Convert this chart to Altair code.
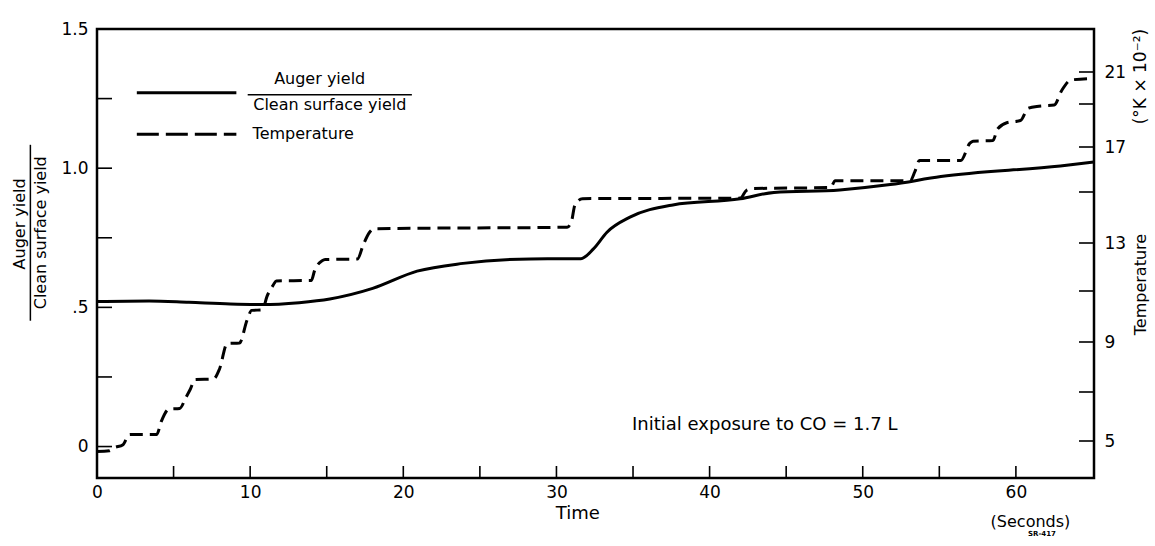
import altair as alt
import pandas as pd

FONT = "DejaVu Sans"

# ---- data ----
# Solid curve: Auger yield / clean surface yield (left axis)
auger_time = [0.0, 3.4, 6.0, 8.7, 10.8, 13.2, 15.2, 18.0, 20.9, 23.9, 28.3, 31.6,
              32.4, 33.3, 34.8, 37.6, 42.0, 44.2, 48.5, 51.8, 55.1, 62.9, 65.1]
auger_ratio = [0.521, 0.523, 0.518, 0.512, 0.510, 0.517, 0.530, 0.568, 0.630, 0.658,
               0.674, 0.675, 0.709, 0.770, 0.824, 0.868, 0.890, 0.913, 0.922, 0.941,
               0.970, 1.008, 1.022]

# Dashed curve: temperature in (K x 10^-2) (right axis)
temp_time = [0.0, 0.8, 1.1, 1.7, 2.1, 2.4, 3.9, 4.2, 4.7, 5.4, 5.8, 6.1, 6.4, 7.6, 8.0,
             8.5, 9.3, 9.8, 10.1, 10.8, 11.1, 11.5, 11.7, 14.0, 14.2, 14.7, 14.9, 17.0,
             17.4, 17.8, 18.1, 30.7, 31.0, 31.2, 31.7, 42.0, 42.4, 42.8, 47.9, 48.2,
             48.5, 53.1, 53.4, 53.7, 56.4, 57.0, 57.2, 58.5, 58.8, 59.4, 60.3, 60.8,
             61.5, 62.5, 63.0, 63.6, 65.1]
temp_value = [4.57, 4.60, 4.72, 4.85, 5.26, 5.27, 5.27, 5.80, 6.30, 6.33, 6.77, 7.12,
              7.50, 7.52, 7.92, 8.94, 8.96, 9.86, 10.24, 10.26, 10.79, 11.24, 11.42,
              11.44, 11.84, 12.26, 12.31, 12.33, 12.95, 13.42, 13.56, 13.62, 13.89,
              14.48, 14.74, 14.76, 15.07, 15.15, 15.20, 15.50, 15.50, 15.50, 15.90,
              16.40, 16.40, 17.18, 17.27, 17.30, 17.84, 18.13, 18.23, 18.80, 18.90,
              18.95, 19.86, 20.50, 20.60]

x_tick_values = [5, 10, 15, 20, 25, 30, 35, 40, 45, 50, 55, 60]
x_label_values = [0, 10, 20, 30, 40, 50, 60]
left_tick_values = [0, 0.25, 0.5, 0.75, 1.0, 1.25]
left_label_values = [0, 0.5, 1.0, 1.5]
right_tick_values = [5, 7, 9, 11, 13, 15, 17, 19, 21]
right_label_values = [5, 9, 13, 17, 21]

# ---- layout ----
W, H = 997, 449

x_scale = alt.Scale(domain=[0, 65.1], nice=False, zero=False)
yl_scale = alt.Scale(domain=[-0.113, 1.5], nice=False, zero=False)
# non-linear temperature axis of the original (piecewise linear)
yr_scale = alt.Scale(domain=[3.49, 5, 7, 9, 11, 13, 15, 17, 19, 21, 23.69],
                     range=[449, 412, 363, 313, 262, 214, 163, 118, 75, 43, 0],
                     nice=False, zero=False)

x_axis = alt.Axis(values=x_label_values, format="d", ticks=False, domain=False,
                  grid=False, title=None, labelFontSize=17, labelFont=FONT,
                  labelColor="black", labelPadding=6, labelFlush=False)
yl_axis = alt.Axis(orient="left", values=left_label_values,
                   labelExpr="datum.value == 0.5 ? '.5' : (datum.value == 0 ? '0' : format(datum.value, '.1f'))",
                   ticks=False, domain=False, grid=False, title=None,
                   labelFontSize=17, labelFont=FONT, labelColor="black",
                   labelPadding=9, labelFlush=False)
yr_axis = alt.Axis(orient="right", values=right_label_values, ticks=False,
                   domain=False, grid=False, title=None, labelFontSize=17,
                   labelFont=FONT, labelColor="black", labelPadding=10,
                   labelFlush=False)

X = lambda f="t": alt.X(f"{f}:Q", scale=x_scale, axis=x_axis)
YL = lambda f="v": alt.Y(f"{f}:Q", scale=yl_scale, axis=yl_axis)
YR = lambda f="T": alt.Y(f"{f}:Q", scale=yr_scale, axis=yr_axis)

auger_df = pd.DataFrame({"t": auger_time, "v": auger_ratio})
temp_df = pd.DataFrame({"t": temp_time, "T": temp_value})

solid = alt.Chart(auger_df).mark_line(color="black", strokeWidth=3,
                                      interpolate="monotone").encode(x=X(), y=YL())

xticks = alt.Chart(pd.DataFrame({"t": x_tick_values})).mark_rule(
    color="black", strokeWidth=1.6).encode(
    x=X(), y=alt.value(H), y2=alt.value(H - 12))

lticks = alt.Chart(pd.DataFrame({"v": left_tick_values})).mark_rule(
    color="black", strokeWidth=1.6).encode(
    y=YL(), x=alt.value(0), x2=alt.value(15))

# legend inside the plot
leg_solid = alt.Chart(pd.DataFrame({"t": [2.6], "t2": [9.1], "v": [1.271]})).mark_rule(
    color="black", strokeWidth=3).encode(x=X(), x2="t2:Q", y=YL())
leg_dash = alt.Chart(pd.DataFrame({"t": [2.6], "t2": [9.1], "v": [1.122]})).mark_rule(
    color="black", strokeWidth=3, strokeDash=[22, 7]).encode(x=X(), x2="t2:Q", y=YL())
frac_rule = alt.Chart(pd.DataFrame({"t": [9.84], "t2": [20.56], "v": [1.264]})).mark_rule(
    color="black", strokeWidth=1.5).encode(x=X(), x2="t2:Q", y=YL())
left_frac_rule = alt.Chart(pd.DataFrame({"t": [-4.35], "v": [1.084], "v2": [0.452]})).mark_rule(
    color="black", strokeWidth=1.5).encode(x=X(), y=YL(), y2="v2:Q")

legend_texts = alt.Chart(pd.DataFrame({
    "t": [14.54, 15.2],
    "v": [1.321, 1.228],
    "s": ["Auger  yield", "Clean surface yield"],
})).mark_text(font=FONT, fontSize=16, color="black", align="center",
              baseline="middle").encode(x=X(), y=YL(), text="s:N")

temp_text = alt.Chart(pd.DataFrame({"t": [10.16], "v": [1.123], "s": ["Temperature"]})).mark_text(
    font=FONT, fontSize=16, color="black", align="left", baseline="middle").encode(
    x=X(), y=YL(), text="s:N")

note_text = alt.Chart(pd.DataFrame({"t": [43.6], "v": [0.076],
                                    "s": ["Initial exposure to CO = 1.7 L"]})).mark_text(
    font=FONT, fontSize=18, color="black", align="center", baseline="middle").encode(
    x=X(), y=YL(), text="s:N")

time_text = alt.Chart(pd.DataFrame({"t": [31.4], "v": [-0.243], "s": ["Time"]})).mark_text(
    font=FONT, fontSize=18, color="black", align="center", baseline="middle").encode(
    x=X(), y=YL(), text="s:N")

seconds_text = alt.Chart(pd.DataFrame({"t": [60.95], "v": [-0.271], "s": ["(Seconds)"]})).mark_text(
    font=FONT, fontSize=16, color="black", align="center", baseline="middle").encode(
    x=X(), y=YL(), text="s:N")

sr_text = alt.Chart(pd.DataFrame({"t": [61.7], "v": [-0.315], "s": ["SR-417"]})).mark_text(
    font=FONT, fontSize=7, fontWeight="bold", color="black", align="center",
    baseline="middle").encode(x=X(), y=YL(), text="s:N")

rot_texts = alt.Chart(pd.DataFrame({
    "t": [-5.0, -3.65, 68.2, 68.2],
    "v": [0.80, 0.768, 0.582, 1.329],
    "s": ["Auger  yield", "Clean surface yield", "Temperature", "(°K × 10⁻²)"],
    "fs": [16, 16, 16, 17],
})).mark_text(font=FONT, color="black", align="center",
              baseline="middle", angle=270).encode(
    x=X(), y=YL(), text="s:N", size=alt.Size("fs:Q", scale=None, legend=None))

left_group = alt.layer(solid, xticks, lticks, leg_solid, leg_dash, frac_rule,
                       left_frac_rule, legend_texts, temp_text, note_text,
                       time_text, seconds_text, sr_text, rot_texts)

dashed = alt.Chart(temp_df).mark_line(color="black", strokeWidth=3, strokeDash=[13, 7],
                                      interpolate="monotone").encode(x=X(), y=YR())
rticks = alt.Chart(pd.DataFrame({"T": right_tick_values})).mark_rule(
    color="black", strokeWidth=1.6).encode(
    y=YR(), x=alt.value(W - 15), x2=alt.value(W))

right_group = alt.layer(dashed, rticks)

chart = alt.layer(left_group, right_group).resolve_scale(y="independent").properties(
    width=W, height=H,
    autosize=alt.AutoSizeParams(type="none"),
    padding={"left": 97, "top": 29, "right": 61, "bottom": 68},
    background="white",
).configure_view(stroke="black", strokeWidth=2.5)

chart.save("out.html", embed_options={"renderer": "svg", "actions": False})
